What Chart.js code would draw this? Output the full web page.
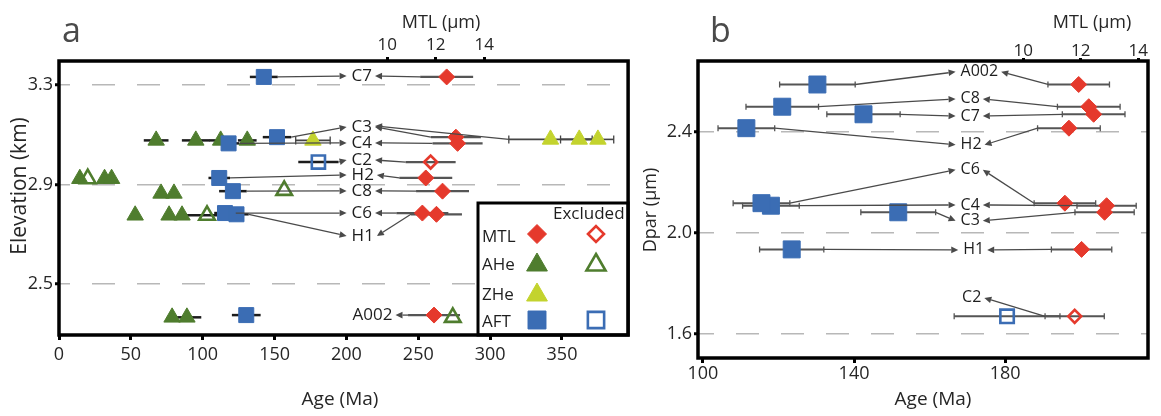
<!DOCTYPE html>
<html>
<head>
<meta charset="utf-8">
<script src="https://cdn.jsdelivr.net/npm/chart.js@4/dist/chart.umd.min.js"></script>
<style>
  html, body { margin: 0; padding: 0; background: #fff; }
  #wrap { position: relative; width: 1161px; height: 416px; overflow: hidden; background: #fff; }
  #panelA { position: absolute; left: 0; top: 0; }
  #panelB { position: absolute; left: 640px; top: 0; }
</style>
</head>
<body>
<div id="wrap">
  <canvas id="panelA" width="640" height="416"></canvas>
  <canvas id="panelB" width="521" height="416"></canvas>
</div>
<script>
// ---- per-sample thermochronology results ----
const samples       = ['C7', 'C3', 'C4', 'C2', 'H2', 'C8', 'C6', 'H1', 'A002'];
const elevationKm   = [3.332, 3.09, 3.065, 2.99, 2.926, 2.873, 2.785, 2.78, 2.375];
const dparUm        = [2.47, 2.082, 2.108, 1.67, 2.415, 2.50, 2.118, 1.935, 2.588];
const aftAgeMa      = [142.5, 151.7, 118, 180.5, 111.5, 121, 115.5, 123.5, 130.3];
const aftErrMa      = [9.7, 9.9, 7.5, 14, 7.5, 9.6, 7.5, 8.5, 10];
const mtlUm         = [12.45, 12.83, 12.9, 11.79, 11.59, 12.28, 11.45, 12.03, 11.93];
const mtlErrUm      = [1.09, 1.03, 1.03, 1.03, 1.09, 1.09, 1.07, 1.05, 1.07];
const excludedSamples = ['C2'];

// apatite (U-Th)/He single-grain ages
const aheAgeMa      = [67.6, 95.2, 112.5, 131, 14.5, 31.7, 36.6, 71, 80, 53, 76.6, 85.6, 78.7, 89];
const aheErrMa      = [8.6, 9.7, 8, 6.5, 0, 0, 0, 0, 0, 0, 0, 0, 0, 10];
const aheElevKm     = [3.077, 3.077, 3.077, 3.077, 2.923, 2.923, 2.923, 2.864, 2.864, 2.776, 2.776, 2.776, 2.366, 2.366];
const aheExclAgeMa  = [20, 103, 156.7, 274];
const aheExclErrMa  = [0, 19, 0, 0];
const aheExclElevKm = [2.923, 2.776, 2.876, 2.366];

// zircon (U-Th)/He single-grain ages
const zheAgeMa      = [176.7, 342, 362, 375];
const zheErrMa      = [12, 29, 13, 11];
const zheElevKm     = [3.077, 3.081, 3.081, 3.081];

// tick labels
const ageTicksA  = [0, 50, 100, 150, 200, 250, 300, 350];
const elevTicks  = [2.5, 2.9, 3.3];
const mtlTicks   = [10, 12, 14];
const ageTicksB  = [100, 140, 180];
const dparTicks  = [1.6, 2.0, 2.4];

// ---- look ----
const FONT = "'Open Sans', 'Noto Sans', 'DejaVu Sans', sans-serif";
const INK = '#262626';
const RED = '#e5392c', GREEN = '#4f7d2e', YELLOW = '#c3d32e', BLUE = '#3b6db4';
const CLEAR = 'rgba(255,255,255,0)';
Chart.defaults.font.family = FONT;
Chart.defaults.color = INK;

const STYLE = {
  mtl:  { pointStyle: 'rectRot',  fill: RED,    stroke: RED,    bw: 1 },
  mtlX: { pointStyle: 'rectRot',  fill: CLEAR,  stroke: RED,    bw: 2.6 },
  ahe:  { pointStyle: 'triangle', fill: GREEN,  stroke: GREEN,  bw: 1 },
  aheX: { pointStyle: 'triangle', fill: CLEAR,  stroke: GREEN,  bw: 2.6 },
  zhe:  { pointStyle: 'triangle', fill: YELLOW, stroke: YELLOW, bw: 1 },
  aft:  { pointStyle: 'rect',     fill: BLUE,   stroke: BLUE,   bw: 1 },
  aftX: { pointStyle: 'rect',     fill: CLEAR,  stroke: BLUE,   bw: 2.6 }
};

const isExcluded = i => excludedSamples.includes(samples[i]);
const isIncluded = i => !isExcluded(i);

function points(xs, ys, errs, keep) {
  const out = [];
  for (let i = 0; i < xs.length; i++) {
    if (!keep || keep(i)) out.push({ x: xs[i], y: ys[i], err: errs ? errs[i] : 0 });
  }
  return out;
}

function dataset(label, data, st, radius, xAxisID, yAxisID, errorBar) {
  return {
    label, data, xAxisID, yAxisID, errorBar,
    pointStyle: st.pointStyle, pointRadius: radius, pointHoverRadius: radius,
    pointBackgroundColor: st.fill, pointBorderColor: st.stroke, pointBorderWidth: st.bw,
    showLine: false
  };
}

// ---- scales ----
function fixedTicks(values) {
  return scale => { scale.ticks = values.map(v => ({ value: v })); };
}
function axisX(position, min, max, ticks, boxSize, tickLen, pad, fontSize) {
  return {
    type: 'linear', axis: 'x', position, min, max,
    afterBuildTicks: fixedTicks(ticks),
    afterFit: s => { s.height = boxSize; },
    grid: { drawOnChartArea: false, drawTicks: true, tickLength: tickLen, tickColor: '#000', tickWidth: 3 },
    border: { display: false },
    ticks: { padding: pad, maxRotation: 0, autoSkip: false, color: INK, font: { size: fontSize } }
  };
}
function axisY(min, max, ticks, boxSize, dashOffset) {
  return {
    type: 'linear', axis: 'y', position: 'left', min, max,
    afterBuildTicks: fixedTicks(ticks),
    afterFit: s => { s.width = boxSize; },
    grid: { color: '#b8b8b8', lineWidth: 1.5, drawTicks: true, tickLength: 4,
            tickColor: '#000', tickWidth: 3, tickBorderDash: [] },
    border: { display: false, dash: [23, 22], dashOffset },
    ticks: { padding: 2, color: INK, font: { size: 18 }, callback: v => v.toFixed(1) }
  };
}

// ---- drawing helpers ----
function shapePath(ctx, style, x, y, r) {
  ctx.beginPath();
  if (style === 'rect') {
    const h = Math.SQRT1_2 * r;
    ctx.rect(x - h, y - h, 2 * h, 2 * h);
  } else if (style === 'rectRot') {
    ctx.moveTo(x - r, y); ctx.lineTo(x, y - r); ctx.lineTo(x + r, y); ctx.lineTo(x, y + r);
    ctx.closePath();
  } else {
    ctx.moveTo(x, y - r);
    ctx.lineTo(x + 0.866 * r, y + 0.5 * r);
    ctx.lineTo(x - 0.866 * r, y + 0.5 * r);
    ctx.closePath();
  }
}
function marker(ctx, st, x, y, r) {
  ctx.save();
  shapePath(ctx, st.pointStyle, x, y, r);
  ctx.fillStyle = st.fill; ctx.fill();
  ctx.lineWidth = st.bw; ctx.strokeStyle = st.stroke; ctx.stroke();
  ctx.restore();
}
function arrow(ctx, x1, y1, x2, y2) {
  const a = Math.atan2(y2 - y1, x2 - x1), L = 7, H = 3.3;
  const bx = x2 - L * Math.cos(a), by = y2 - L * Math.sin(a);
  ctx.strokeStyle = '#4a4a4a'; ctx.fillStyle = '#4a4a4a'; ctx.lineWidth = 1.3;
  ctx.beginPath(); ctx.moveTo(x1, y1); ctx.lineTo(bx, by); ctx.stroke();
  ctx.beginPath();
  ctx.moveTo(x2, y2);
  ctx.lineTo(bx - H * Math.sin(a), by + H * Math.cos(a));
  ctx.lineTo(bx + H * Math.sin(a), by - H * Math.cos(a));
  ctx.closePath(); ctx.fill();
}
function text(ctx, t) {
  ctx.save();
  ctx.font = (t.weight || '') + ' ' + t.size + 'px ' + FONT;
  ctx.fillStyle = t.color || INK;
  ctx.textAlign = t.align || 'center';
  ctx.textBaseline = t.base || 'middle';
  ctx.translate(t.x, t.y);
  if (t.rot) ctx.rotate(t.rot);
  ctx.fillText(t.t, 0, 0);
  ctx.restore();
}

function drawErrorBars(chart) {
  const ctx = chart.ctx;
  chart.data.datasets.forEach(d => {
    const eb = d.errorBar;
    if (!eb) return;
    const xs = chart.scales[d.xAxisID], ys = chart.scales[d.yAxisID];
    ctx.save();
    ctx.strokeStyle = eb.color; ctx.lineWidth = eb.width;
    d.data.forEach(p => {
      if (!p.err) return;
      const x1 = xs.getPixelForValue(p.x - p.err), x2 = xs.getPixelForValue(p.x + p.err);
      const y = ys.getPixelForValue(p.y);
      ctx.beginPath(); ctx.moveTo(x1, y); ctx.lineTo(x2, y); ctx.stroke();
      if (eb.cap) {
        ctx.save(); ctx.lineWidth = 1.3;
        ctx.beginPath();
        ctx.moveTo(x1, y - eb.cap); ctx.lineTo(x1, y + eb.cap);
        ctx.moveTo(x2, y - eb.cap); ctx.lineTo(x2, y + eb.cap);
        ctx.stroke(); ctx.restore();
      }
    });
    ctx.restore();
  });
}

// sample names with arrows from the AFT age and the MTL value
function drawNotes(chart, cfg) {
  const ctx = chart.ctx;
  const xs = chart.scales.age, ys = chart.scales[cfg.yAxis], ms = chart.scales.mtl;
  ctx.save();
  ctx.font = cfg.noteSize + 'px ' + FONT;
  ctx.textBaseline = 'middle'; ctx.textAlign = 'left';
  const place = {};
  samples.forEach((s, i) => {
    const anchor = cfg.anchors[s];
    if (!anchor) return;
    const lx = xs.getPixelForValue(anchor[0]), ly = ys.getPixelForValue(anchor[1]);
    const w = ctx.measureText(s).width;
    place[s] = { lx, ly, w };
    const py = ys.getPixelForValue(cfg.yValues[i]);
    if (!cfg.skipAft.includes(s)) {
      arrow(ctx, xs.getPixelForValue(aftAgeMa[i] + aftErrMa[i]), py, lx - 5, ly);
    }
    arrow(ctx, ms.getPixelForValue(mtlUm[i] - mtlErrUm[i]), py, lx + w + 3, ly);
    ctx.fillStyle = '#1e1e1e';
    ctx.fillText(s, lx, ly);
  });
  (cfg.extraArrows || []).forEach(e => {
    const p = place[e.to];
    arrow(ctx, xs.getPixelForValue(e.age), ys.getPixelForValue(e.y), p.lx + p.w + 3, p.ly - 1);
  });
  ctx.restore();
}

function drawLegend(chart, lg) {
  const ctx = chart.ctx, ca = chart.chartArea;
  const L = lg.left, T = lg.top, R = ca.right, B = ca.bottom;
  ctx.save();
  ctx.fillStyle = '#fff'; ctx.fillRect(L, T, R - L, B - T);
  ctx.lineWidth = 3; ctx.strokeStyle = '#000'; ctx.strokeRect(L, T, R - L, B - T);
  text(ctx, { t: 'Excluded', x: lg.exclText, y: T + 11, size: 17, align: 'left', color: '#1e1e1e' });
  lg.rows.forEach(r => {
    text(ctx, { t: r.name, x: L + 4, y: r.y, size: 17, align: 'left', color: '#1e1e1e' });
    marker(ctx, STYLE[r.style], lg.col1, r.y + r.dy, r.r);
    if (r.excl) marker(ctx, STYLE[r.excl], lg.col2, r.y + r.dy, r.rx);
  });
  ctx.restore();
}

function drawFrame(chart) {
  const ctx = chart.ctx, ca = chart.chartArea;
  ctx.save();
  ctx.lineWidth = 3.5; ctx.strokeStyle = '#000';
  ctx.strokeRect(ca.left, ca.top, ca.right - ca.left, ca.bottom - ca.top);
  ctx.restore();
}

function decor(cfg) {
  return {
    id: 'decor',
    beforeDatasetsDraw(chart) { drawErrorBars(chart); },
    afterDatasetsDraw(chart) {
      drawNotes(chart, cfg);
      if (cfg.legend) drawLegend(chart, cfg.legend);
    },
    afterDraw(chart) {
      drawFrame(chart);
      cfg.texts.forEach(t => text(chart.ctx, t));
    }
  };
}

const common = {
  responsive: false, animation: false, devicePixelRatio: 1, events: [],
  plugins: { legend: { display: false }, tooltip: { enabled: false } }
};

// ---- panel a: elevation profile ----
new Chart(document.getElementById('panelA'), {
  type: 'scatter',
  data: {
    datasets: [
      dataset('MTL', points(mtlUm, elevationKm, mtlErrUm, isIncluded), STYLE.mtl, 8, 'mtl', 'elev',
              { color: '#555', width: 2.2 }),
      dataset('MTL excluded', points(mtlUm, elevationKm, mtlErrUm, isExcluded), STYLE.mtlX, 6.5, 'mtl', 'elev',
              { color: '#555', width: 2.2 }),
      dataset('AFT', points(aftAgeMa, elevationKm, aftErrMa, isIncluded), STYLE.aft, 10.6, 'age', 'elev',
              { color: '#1c1c1c', width: 2.5 }),
      dataset('AFT excluded', points(aftAgeMa, elevationKm, aftErrMa, isExcluded), STYLE.aftX, 9.3, 'age', 'elev',
              { color: '#1c1c1c', width: 2.5 }),
      dataset('ZHe', points(zheAgeMa, zheElevKm, zheErrMa), STYLE.zhe, 9.5, 'age', 'elev',
              { color: '#444', width: 1.6, cap: 4 }),
      dataset('AHe excluded', points(aheExclAgeMa, aheExclElevKm, aheExclErrMa), STYLE.aheX, 9, 'age', 'elev',
              { color: '#1c1c1c', width: 2.5 }),
      dataset('AHe', points(aheAgeMa, aheElevKm, aheErrMa), STYLE.ahe, 9.5, 'age', 'elev',
              { color: '#1c1c1c', width: 2.5 })
    ]
  },
  options: Object.assign({}, common, {
    layout: { padding: { left: 0, right: 7, top: 0, bottom: 0 } },
    scales: {
      age:  axisX('bottom', 0, 396, ageTicksA, 81, 5, 4, 18),
      mtl:  axisX('top', -3.51, 19.92, mtlTicks, 61, 4, 2, 17),
      elev: axisY(2.295, 3.396, elevTicks, 59, 12)
    }
  }),
  plugins: [decor({
    yAxis: 'elev', yValues: elevationKm, noteSize: 17, skipAft: ['A002'],
    anchors: {
      C7: [203.6, 3.336], C3: [203.6, 3.131], C4: [203.6, 3.067], C2: [203.6, 2.998],
      H2: [203.6, 2.938], C8: [203.6, 2.874], C6: [203.6, 2.785], H1: [203.6, 2.693],
      A002: [204.3, 2.375]
    },
    extraArrows: [{ age: zheAgeMa[1] - zheErrMa[1], y: zheElevKm[1], to: 'C3' }],
    legend: {
      left: 478, top: 203, exclText: 553, col1: 537, col2: 596,
      rows: [
        { name: 'MTL', y: 237, dy: -3, style: 'mtl', r: 9.5, excl: 'mtlX', rx: 8 },
        { name: 'AHe', y: 265, dy: 0,  style: 'ahe', r: 12,  excl: 'aheX', rx: 11 },
        { name: 'ZHe', y: 295, dy: 0,  style: 'zhe', r: 12 },
        { name: 'AFT', y: 322, dy: -2, style: 'aft', r: 12.7, excl: 'aftX', rx: 11.5 }
      ]
    },
    texts: [
      { t: 'a', x: 62, y: 42, size: 34, align: 'left', base: 'alphabetic', color: '#4a4a4a' },
      { t: 'MTL (µm)', x: 441, y: 23, size: 18 },
      { t: 'Elevation (km)', x: 20, y: 186, size: 21, rot: -Math.PI / 2 },
      { t: 'Age (Ma)', x: 340, y: 400, size: 19 }
    ]
  })]
});

// ---- panel b: etch-pit diameter ----
new Chart(document.getElementById('panelB'), {
  type: 'scatter',
  data: {
    datasets: [
      dataset('MTL', points(mtlUm, dparUm, mtlErrUm, isIncluded), STYLE.mtl, 8, 'mtl', 'dpar',
              { color: '#555', width: 2, cap: 3 }),
      dataset('MTL excluded', points(mtlUm, dparUm, mtlErrUm, isExcluded), STYLE.mtlX, 6.5, 'mtl', 'dpar',
              { color: '#555', width: 2, cap: 3 }),
      dataset('AFT', points(aftAgeMa, dparUm, aftErrMa, isIncluded), STYLE.aft, 12, 'age', 'dpar',
              { color: '#555', width: 2, cap: 3 }),
      dataset('AFT excluded', points(aftAgeMa, dparUm, aftErrMa, isExcluded), STYLE.aftX, 9.5, 'age', 'dpar',
              { color: '#555', width: 2, cap: 3 })
    ]
  },
  options: Object.assign({}, common, {
    layout: { padding: { left: 0, right: 9, top: 0, bottom: 0 } },
    scales: {
      age:  axisX('bottom', 98.7, 217.8, ageTicksB, 58, 5, 0, 18),
      mtl:  axisX('top', -1.31, 14.34, mtlTicks, 61, 3, -3, 17),
      dpar: axisY(1.505, 2.681, dparTicks, 58, 7)
    }
  }),
  plugins: [decor({
    yAxis: 'dpar', yValues: dparUm, noteSize: 16, skipAft: ['C2'],
    anchors: {
      A002: [168.2, 2.638], C8: [168.2, 2.531], C7: [168.2, 2.463], H2: [168.2, 2.349],
      C6: [168.2, 2.25], C4: [168.2, 2.111], C3: [168.2, 2.048], H1: [168.9, 1.933],
      C2: [168.6, 1.743]
    },
    texts: [
      { t: 'b', x: 70, y: 42, size: 34, align: 'left', base: 'alphabetic', color: '#4a4a4a' },
      { t: 'MTL (µm)', x: 452, y: 23, size: 18 },
      { t: 'Dpar (µm)', x: 11, y: 210, size: 18, rot: -Math.PI / 2 },
      { t: 'Age (Ma)', x: 293, y: 400, size: 19 }
    ]
  })]
});
</script>
</body>
</html>
